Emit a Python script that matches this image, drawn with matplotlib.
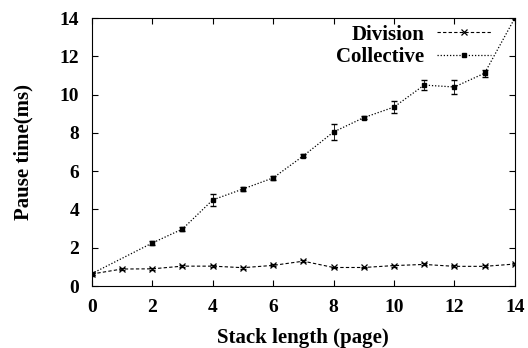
import matplotlib
matplotlib.use("Agg")
import matplotlib.pyplot as plt
from matplotlib.lines import Line2D

# stack length (pages)
div_x = [0, 1, 2, 3, 4, 5, 6, 7, 8, 9, 10, 11, 12, 13, 14]
div_y = [0.63, 0.89, 0.9, 1.04, 1.04, 0.96, 1.08, 1.3, 0.97, 0.97, 1.07, 1.13, 1.03, 1.03, 1.15]
div_err = [0.05, 0.05, 0.05, 0.05, 0.05, 0.05, 0.05, 0.05, 0.05, 0.05, 0.05, 0.05, 0.05, 0.05, 0.05]

col_x = [0, 2, 3, 4, 5, 6, 7, 8, 9, 10, 11, 12, 13, 14]
col_y = [0.65, 2.25, 2.98, 4.5, 5.07, 5.65, 6.8, 8.05, 8.8, 9.35, 10.5, 10.4, 11.12, 14.0]
col_err = [0.05, 0.08, 0.08, 0.3, 0.1, 0.1, 0.08, 0.4, 0.08, 0.3, 0.28, 0.35, 0.18, 0.05]

xticks = [0, 2, 4, 6, 8, 10, 12, 14]
yticks = [0, 2, 4, 6, 8, 10, 12, 14]

plt.rcParams["font.family"] = ["Liberation Serif", "DejaVu Serif"]
plt.rcParams["font.weight"] = "bold"

div_ls = (0, (3, 2))
col_ls = (0, (1, 1.5))

fig = plt.figure(figsize=(5.28, 3.48), dpi=100)
ax = fig.add_axes([0.174, 0.178, 0.801, 0.770])

ax.errorbar(div_x, div_y, yerr=div_err, color="black", linestyle=div_ls,
            linewidth=0.8, marker="x", markersize=4, markeredgewidth=0.9,
            elinewidth=0.6, capsize=2)
ax.errorbar(col_x, col_y, yerr=col_err, color="black", linestyle=col_ls,
            linewidth=0.9, marker="s", markersize=3.5,
            elinewidth=0.6, capsize=2)

ax.set_xlim(0, 14)
ax.set_ylim(0, 14)
ax.set_xticks(xticks)
ax.set_yticks(yticks)
ax.tick_params(direction="in", top=True, right=True, labelsize=14, length=4, pad=9)
for lab in ax.get_xticklabels() + ax.get_yticklabels():
    lab.set_fontweight("bold")

ax.set_xlabel("Stack length (page)", fontsize=15, fontweight="bold", labelpad=9)
ax.set_ylabel("Pause time(ms)", fontsize=15, fontweight="bold", labelpad=19)

handles = [
    Line2D([], [], color="black", linestyle=div_ls, linewidth=0.8,
           marker="x", markersize=4, markeredgewidth=0.9),
    Line2D([], [], color="black", linestyle=col_ls, linewidth=0.9,
           marker="s", markersize=3),
]
ax.legend(handles, ["Division", "Collective"], loc="upper right",
          bbox_to_anchor=(0.988, 1.045), frameon=False,
          markerfirst=False, prop={"size": 15, "weight": "bold"},
          handlelength=2.6, borderaxespad=0.7, borderpad=0.2,
          labelspacing=0.1, handletextpad=0.6)

fig.savefig("out.png", dpi=100)
